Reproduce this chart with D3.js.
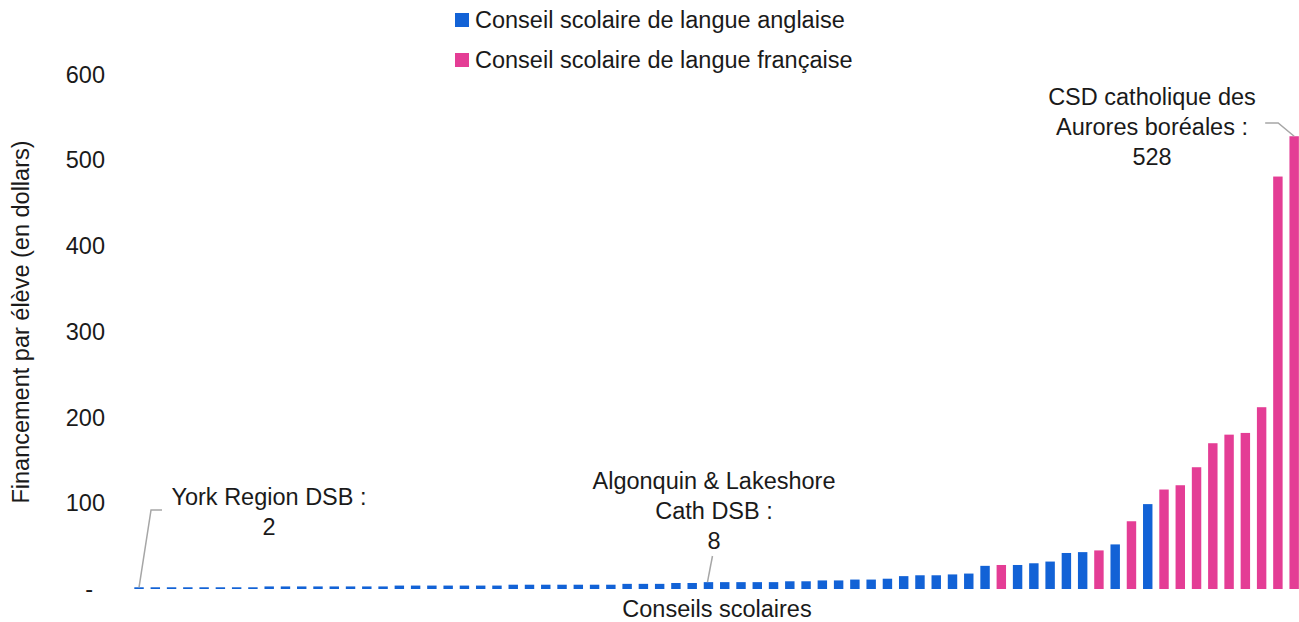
<!DOCTYPE html>
<html>
<head>
<meta charset="utf-8">
<script src="https://cdn.jsdelivr.net/npm/d3@7"></script>
<style>
  body { margin: 0; background: #ffffff; }
  svg text { font-family: "Liberation Sans", Arial, Helvetica, sans-serif; fill: #1a1a1a; }
</style>
</head>
<body>
<svg id="chart" width="1299" height="622"></svg>
<script>
// Funding per student, school boards sorted in ascending order
const boardRanks = d3.range(1, 73);
const fundingPerStudent = [
  2, 2, 2, 2, 2, 2, 2, 2, 3, 3,
  3, 3, 3, 3, 3, 3, 4, 4, 4, 4,
  4, 4, 4, 5, 5, 5, 5, 5, 5, 5,
  6, 6, 6, 7, 7, 8, 8, 8, 8, 8,
  9, 9, 10, 10, 11, 11, 12, 15, 16, 16,
  17, 18, 27, 28, 28, 30, 32, 42, 43, 45,
  52, 79, 99, 116, 121, 142, 170, 180, 182, 212,
  481, 528
];
// "A" = English-language board, "F" = French-language board
const boardLanguage = [
  "A","A","A","A","A","A","A","A","A","A",
  "A","A","A","A","A","A","A","A","A","A",
  "A","A","A","A","A","A","A","A","A","A",
  "A","A","A","A","A","A","A","A","A","A",
  "A","A","A","A","A","A","A","A","A","A",
  "A","A","A","F","A","A","A","A","A","F",
  "A","F","A","F","F","F","F","F","F","F",
  "F","F"
];
const seriesKeys = ["A", "F"];
const seriesNames = ["Conseil scolaire de langue anglaise", "Conseil scolaire de langue française"];
const seriesColors = ["#1262d6", "#e43d95"];
const yTickValues = [0, 100, 200, 300, 400, 500, 600];
const yTickLabels = ["-", "100", "200", "300", "400", "500", "600"];
const calloutIndex = [0, 35, 71];
const calloutText = [
  ["York Region DSB :"],
  ["Algonquin & Lakeshore", "Cath DSB :"],
  ["CSD catholique des", "Aurores boréales :"]
];

const fontSize = 23.5;
const svg = d3.select("#chart");
const color = d3.scaleOrdinal().domain(seriesKeys).range(seriesColors);

const x = d3.scaleBand()
  .domain(boardRanks)
  .range([130.9, 1302.3])
  .paddingInner(0.42)
  .paddingOuter(0.21);

const y = d3.scaleLinear().domain([0, 600]).range([589, 74.5]);

// Value axis
const yAxis = d3.axisLeft(y)
  .tickValues(yTickValues)
  .tickSize(0)
  .tickPadding(0)
  .tickFormat((d, i) => yTickLabels[i]);

const yg = svg.append("g").attr("transform", "translate(105,0)").call(yAxis);
yg.select(".domain").remove();
yg.selectAll("text")
  .attr("font-size", fontSize)
  .attr("fill", "#1a1a1a")
  .attr("font-family", "Liberation Sans, Arial, sans-serif");
yg.selectAll(".tick").filter(d => d === 0).select("text").attr("x", -12);

// Axis titles
svg.append("text")
  .attr("transform", "translate(29,322) rotate(-90)")
  .attr("text-anchor", "middle")
  .attr("font-size", fontSize)
  .text("Financement par élève (en dollars)");

svg.append("text")
  .attr("x", 717)
  .attr("y", 617)
  .attr("text-anchor", "middle")
  .attr("font-size", fontSize)
  .text("Conseils scolaires");

// Bars
svg.append("g")
  .selectAll("rect")
  .data(fundingPerStudent)
  .join("rect")
  .attr("x", (d, i) => x(boardRanks[i]))
  .attr("width", x.bandwidth())
  .attr("y", d => y(d))
  .attr("height", d => y(0) - y(d))
  .attr("fill", (d, i) => color(boardLanguage[i]));

// Legend
const legend = svg.append("g");
seriesKeys.forEach((k, i) => {
  const row = legend.append("g").attr("transform", `translate(455,${13 + i * 40})`);
  row.append("rect").attr("width", 14).attr("height", 14).attr("fill", color(k));
  row.append("text")
    .attr("x", 20)
    .attr("y", 15)
    .attr("font-size", fontSize)
    .text(seriesNames[i]);
});

// Callouts with leader lines
const leader = "#a6a6a6";
const lineH = 30;
const cx = i => x(boardRanks[i]) + x.bandwidth() / 2;

function callout(k, textX, firstBaseline, path) {
  const idx = calloutIndex[k];
  const lines = calloutText[k].concat([String(fundingPerStudent[idx])]);
  const t = svg.append("text").attr("text-anchor", "middle").attr("font-size", fontSize);
  lines.forEach((s, j) => {
    t.append("tspan").attr("x", textX).attr("y", firstBaseline + j * lineH).text(s);
  });
  svg.append("path")
    .attr("d", d3.line()(path))
    .attr("fill", "none")
    .attr("stroke", leader)
    .attr("stroke-width", 1.5);
}

// York Region DSB
{
  const bx = cx(calloutIndex[0]), by = y(fundingPerStudent[calloutIndex[0]]);
  callout(0, 269, 505, [[bx, by], [bx + 12, 510], [bx + 23, 510]]);
}
// Algonquin & Lakeshore Cath DSB
{
  const bx = cx(calloutIndex[1]), by = y(fundingPerStudent[calloutIndex[1]]);
  callout(1, 714, 489, [[bx - 1, by], [bx + 4, 556]]);
}
// CSD catholique des Aurores boréales
{
  const bx = cx(calloutIndex[2]), by = y(fundingPerStudent[calloutIndex[2]]);
  callout(2, 1152, 105, [[bx - 29, 123], [bx - 16, 123], [bx, by]]);
}
</script>
</body>
</html>
